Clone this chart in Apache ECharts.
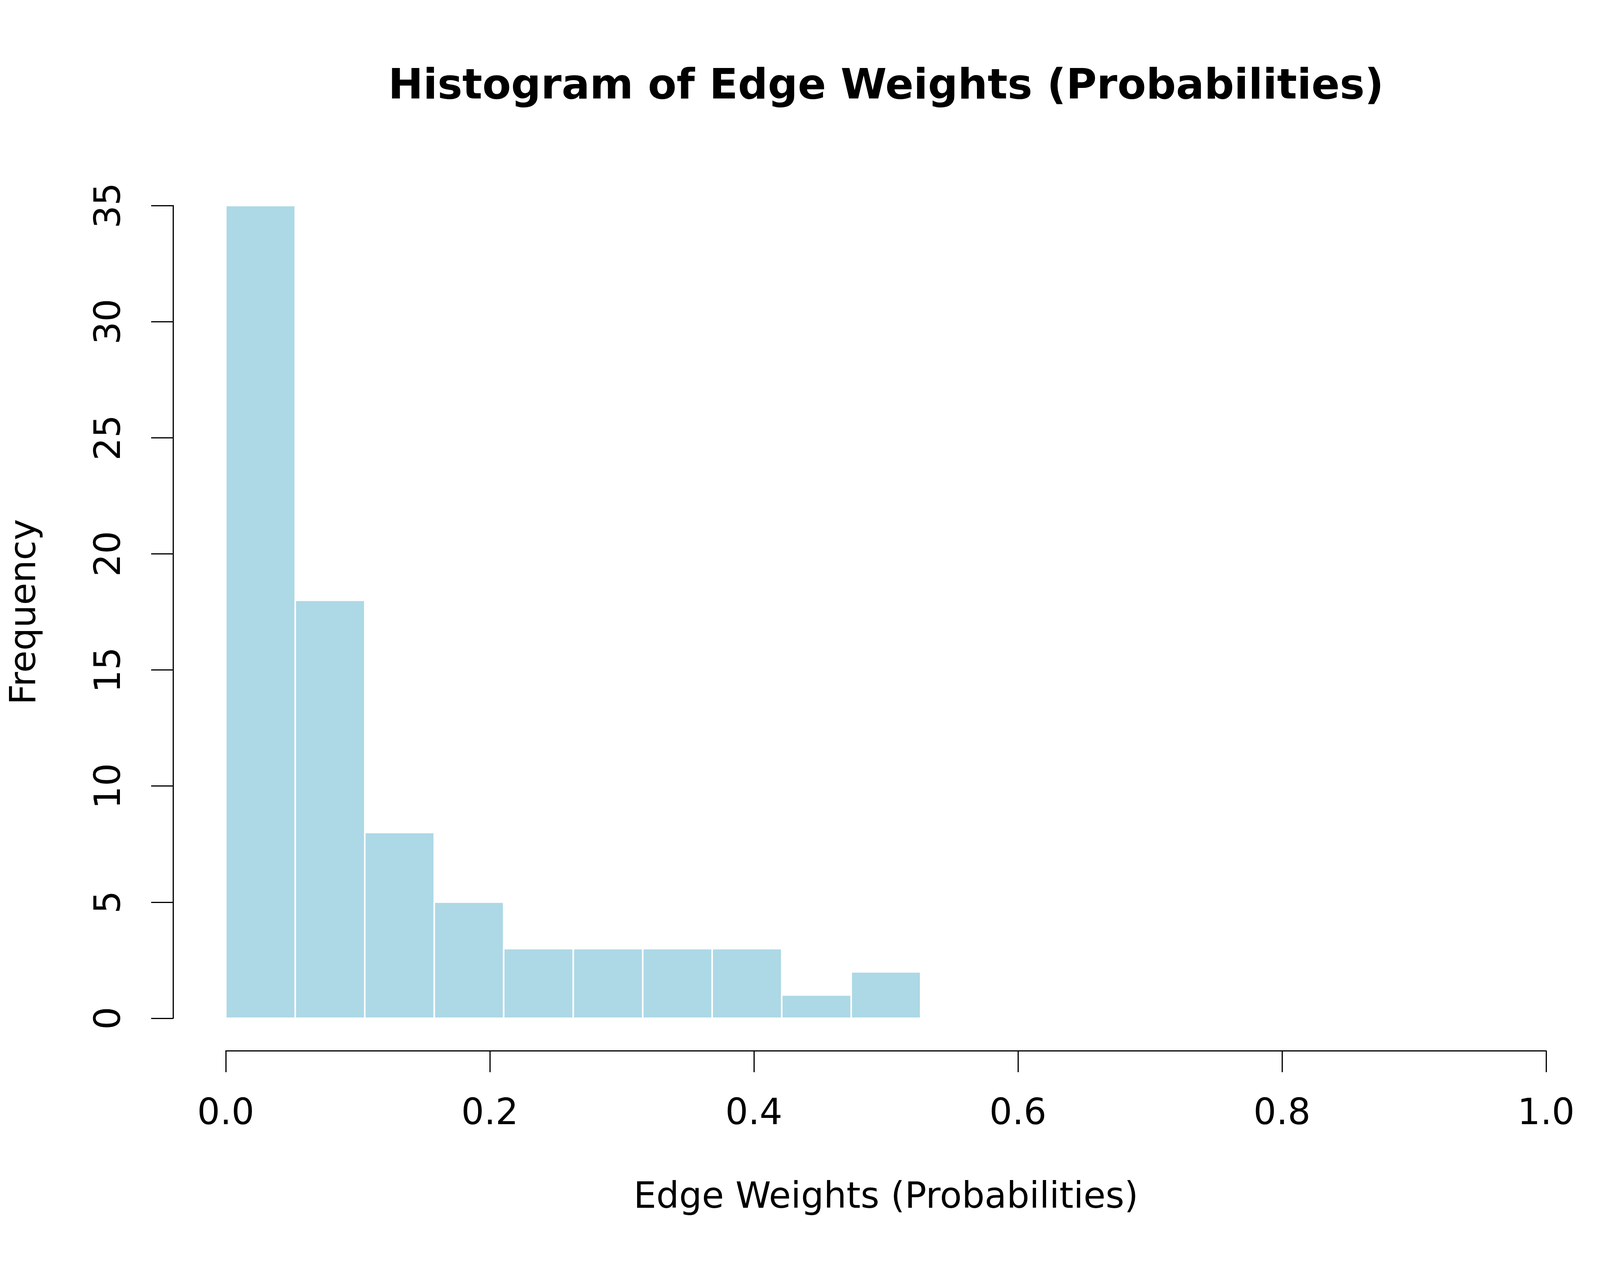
<!DOCTYPE html>
<html>
<head>
<meta charset="utf-8">
<script src="https://cdn.jsdelivr.net/npm/echarts@6/dist/echarts.min.js"></script>
<style>
  html, body { margin: 0; padding: 0; background: #fff; }
  #main { width: 4320px; height: 3240px; }
</style>
</head>
<body>
<div id="main"></div>
<script>
// histogram bins (edges) and counts
var binStart = [0, 0.0526, 0.1053, 0.1579, 0.2105, 0.2632, 0.3158, 0.3684, 0.4211, 0.4737];
var binEnd = [0.0526, 0.1053, 0.1579, 0.2105, 0.2632, 0.3158, 0.3684, 0.4211, 0.4737, 0.5263];
var counts = [35, 18, 8, 5, 3, 3, 3, 3, 1, 2];
var xTicks = [0, 0.2, 0.4, 0.6, 0.8, 1.0];
var yTicks = [0, 5, 10, 15, 20, 25, 30, 35];

var font = 'DejaVu Sans';
var chart = echarts.init(document.getElementById('main'));

var data = [];
for (var i = 0; i < counts.length; i++) {
  data.push([binStart[i], binEnd[i], counts[i]]);
}

var option = {
  backgroundColor: '#ffffff',
  animation: false,
  title: {
    text: 'Histogram of Edge Weights (Probabilities)',
    left: 2268,
    top: 171,
    padding: 0,
    textAlign: 'center',
    textStyle: { fontFamily: font, fontSize: 107, fontWeight: 'bold', color: '#000' }
  },
  grid: { left: 578, right: 362, top: 526, bottom: 634 },
  xAxis: {
    type: 'value',
    min: xTicks[0],
    max: xTicks[xTicks.length - 1],
    interval: 0.2,
    offset: 83,
    name: 'Edge Weights (Probabilities)',
    nameLocation: 'middle',
    nameGap: 332,
    nameTextStyle: { fontFamily: font, fontSize: 92, color: '#000' },
    axisLine: { show: true, onZero: false, lineStyle: { color: '#000', width: 3 } },
    axisTick: { show: true, length: 55, lineStyle: { color: '#000', width: 3 } },
    axisLabel: {
      margin: 118,
      fontFamily: font, fontSize: 92, color: '#000',
      formatter: function (v) { return v.toFixed(1); }
    },
    splitLine: { show: false }
  },
  yAxis: {
    type: 'value',
    min: yTicks[0],
    max: yTicks[yTicks.length - 1],
    interval: 5,
    offset: 135,
    name: 'Frequency',
    nameLocation: 'middle',
    nameGap: 331,
    nameTextStyle: { fontFamily: font, fontSize: 92, color: '#000' },
    axisLine: { show: true, onZero: false, lineStyle: { color: '#000', width: 3 } },
    axisTick: { show: true, length: 56, lineStyle: { color: '#000', width: 3 } },
    axisLabel: {
      margin: 114, rotate: 90,
      fontFamily: font, fontSize: 92, color: '#000'
    },
    splitLine: { show: false }
  },
  series: [{
    type: 'custom',
    data: data,
    encode: { x: [0, 1], y: 2 },
    renderItem: function (params, api) {
      var p0 = api.coord([api.value(0), 0]);
      var p1 = api.coord([api.value(1), api.value(2)]);
      return {
        type: 'rect',
        shape: { x: p0[0], y: p1[1], width: p1[0] - p0[0], height: p0[1] - p1[1] },
        style: { fill: '#ADD8E6', stroke: '#ffffff', lineWidth: 4 }
      };
    }
  }]
};
chart.setOption(option);
</script>
</body>
</html>
